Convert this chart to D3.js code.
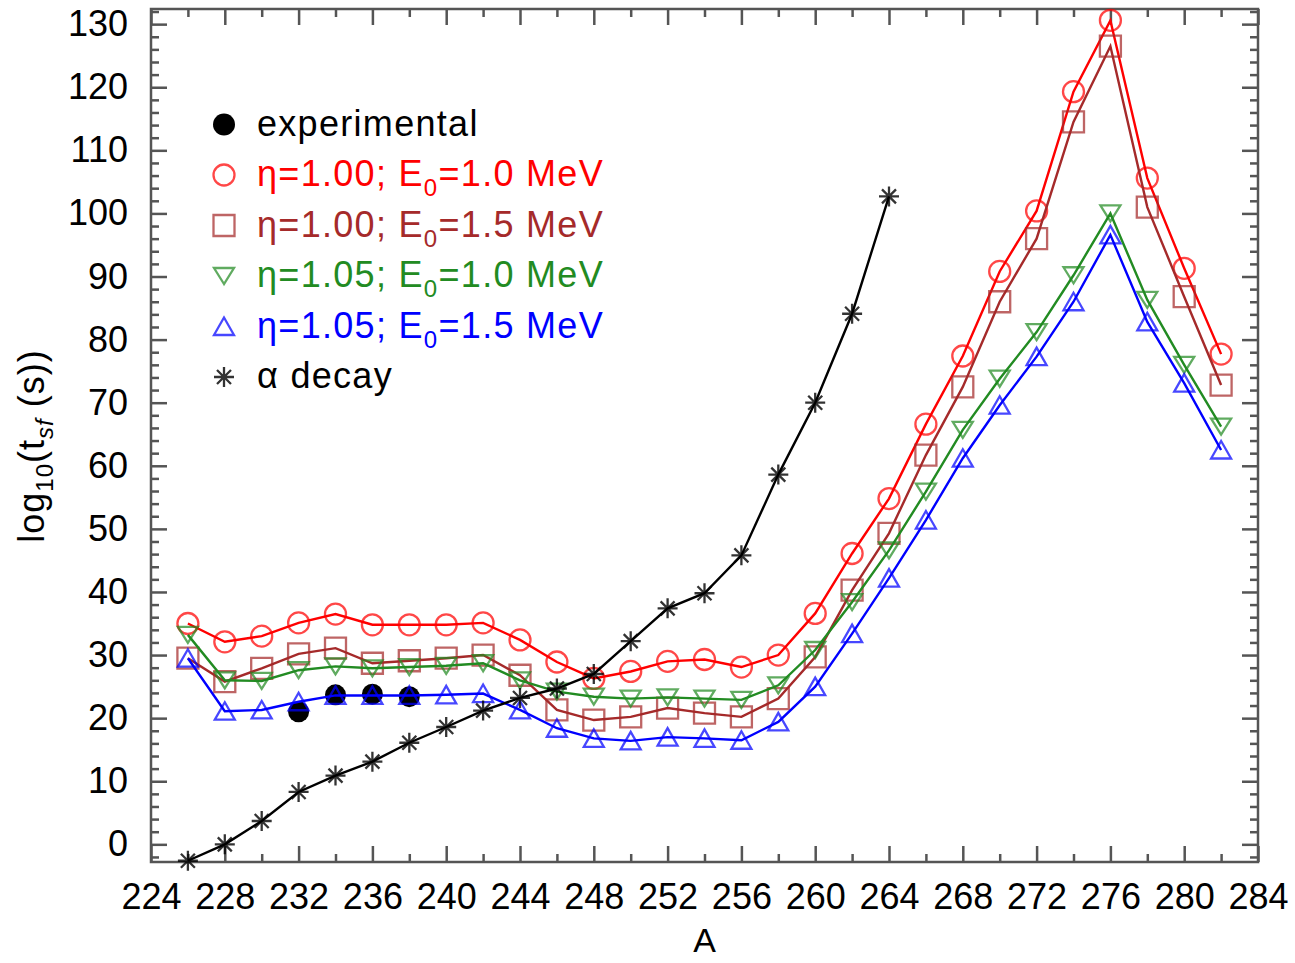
<!DOCTYPE html>
<html><head><meta charset="utf-8">
<script src="https://cdn.jsdelivr.net/npm/d3@7"></script>
<style>
body{margin:0;background:#fff}
svg{display:block}
text{font-family:"Liberation Sans",Arial,Helvetica,sans-serif}
</style>
</head><body>
<svg id="chart" width="1295" height="963"></svg>
<script>
// ---------------- data ----------------
const massNumbers = [226,228,230,232,234,236,238,240,242,244,246,248,250,252,254,256,258,260,262,264,266,268,270,272,274,276,278,280,282];
const eta100E10 = [35.0,32.1,33.0,35.1,36.5,34.8,34.8,34.8,35.1,32.4,28.9,26.3,27.4,29.0,29.3,28.1,30.0,36.6,46.1,54.8,66.6,77.4,90.8,100.4,119.3,130.6,105.6,91.3,77.7];
const eta100E15 = [29.5,25.8,27.9,30.2,31.1,28.7,29.1,29.5,30.0,26.8,21.3,19.7,20.2,21.6,20.8,20.2,23.1,29.7,40.3,49.3,61.7,72.5,86.0,96.0,114.5,126.5,101.0,86.8,72.8];
const eta105E10 = [33.2,26.0,25.9,27.6,28.2,27.9,28.1,28.3,28.7,26.0,24.2,23.4,23.1,23.3,23.1,22.9,25.2,30.8,38.4,46.6,55.9,65.7,73.8,81.2,90.2,100.0,86.3,76.0,66.2];
const eta105E15 = [29.5,21.1,21.3,22.6,23.6,23.6,23.6,23.7,23.9,21.3,18.4,16.8,16.4,17.0,16.8,16.5,19.4,25.0,33.4,42.2,51.4,61.2,69.6,77.3,86.0,96.6,82.8,73.1,62.5];
const expMass = [232,234,236,238];
const expValues = [21.0,23.7,23.8,23.4];
const alphaMass = [226,228,230,232,234,236,238,240,242,244,246,248,250,252,254,256,258,260,262,264];
const alphaValues = [-2.6,0.0,3.7,8.3,10.9,13.1,16.1,18.6,21.2,23.2,24.7,27.0,32.2,37.4,39.8,45.8,58.6,70.0,84.1,102.7];
const xTickLabels = [224,228,232,236,240,244,248,252,256,260,264,268,272,276,280,284];
const yTickLabels = [0,10,20,30,40,50,60,70,80,90,100,110,120,130];
const legendLabels = ["experimental","η=1.00; E|0|=1.0 MeV","η=1.00; E|0|=1.5 MeV","η=1.05; E|0|=1.0 MeV","η=1.05; E|0|=1.5 MeV","α decay"];

// ---------------- layout ----------------
const svg = d3.select("#chart");
const L = 151, R = 1258, T = 9, B = 862;
const x = d3.scaleLinear().domain([224, 284]).range([L, R]);
const y = d3.scaleLinear().domain([-2.8, 132.4]).range([B, T]);
const axisColor = "#555";

const series = [
  {name: legendLabels[1], vals: eta100E10, color: "#ff0000", shape: "circle"},
  {name: legendLabels[2], vals: eta100E15, color: "#a52a2a", shape: "square"},
  {name: legendLabels[3], vals: eta105E10, color: "#228b22", shape: "tridown"},
  {name: legendLabels[4], vals: eta105E15, color: "#0000ff", shape: "triup"}
];

function markerPath(shape){
  switch(shape){
    case "square": return "M-10.5,-10.5H10.5V10.5H-10.5Z";
    case "triup": return "M0,-9L-10,8.5H10Z";
    case "tridown": return "M0,8L-10,-8H10Z";
    case "star": return "M-10,0H10M0,-10V10M-7,-7L7,7M-7,7L7,-7";
    default: return d3.symbol(d3.symbolCircle, Math.PI*10.5*10.5)();
  }
}

// ---------------- axes ----------------
function styleAxis(g){
  g.select(".domain").remove();
  g.selectAll(".tick line").attr("stroke", axisColor).attr("stroke-width", 2.5);
  g.selectAll(".tick text").attr("fill", "#000").style("font-size", "36px");
}
const xMinor = d3.range(226, 284, 4);
const yMinor = d3.range(-2, 133, 2).filter(v => v % 10 !== 0);

svg.append("g").attr("transform", `translate(0,${B})`)
  .call(d3.axisBottom(x).tickValues(xTickLabels).tickSize(-16).tickPadding(21).tickFormat(d3.format("d"))).call(styleAxis);
svg.append("g").attr("transform", `translate(0,${B})`)
  .call(d3.axisBottom(x).tickValues(xMinor).tickSize(-8).tickFormat("")).call(styleAxis);
svg.append("g").attr("transform", `translate(0,${T})`)
  .call(d3.axisTop(x).tickValues(xTickLabels).tickSize(-16).tickFormat("")).call(styleAxis);
svg.append("g").attr("transform", `translate(0,${T})`)
  .call(d3.axisTop(x).tickValues(xMinor).tickSize(-8).tickFormat("")).call(styleAxis);
svg.append("g").attr("transform", `translate(${L},0)`)
  .call(d3.axisLeft(y).tickValues(yTickLabels).tickSize(-16).tickPadding(23).tickFormat(d3.format("d"))).call(styleAxis);
svg.append("g").attr("transform", `translate(${L},0)`)
  .call(d3.axisLeft(y).tickValues(yMinor).tickSize(-8).tickFormat("")).call(styleAxis);
svg.append("g").attr("transform", `translate(${R},0)`)
  .call(d3.axisRight(y).tickValues(yTickLabels).tickSize(-16).tickFormat("")).call(styleAxis);
svg.append("g").attr("transform", `translate(${R},0)`)
  .call(d3.axisRight(y).tickValues(yMinor).tickSize(-8).tickFormat("")).call(styleAxis);

svg.append("rect").attr("x", L).attr("y", T).attr("width", R - L).attr("height", B - T)
  .attr("fill", "none").attr("stroke", axisColor).attr("stroke-width", 2.5);

// axis titles
svg.append("text").attr("x", (L + R) / 2).attr("y", 952).attr("text-anchor", "middle")
  .style("font-size", "34px").text("A");
const yl = svg.append("text").attr("transform", "translate(44,446) rotate(-90)")
  .attr("text-anchor", "middle").style("font-size", "36px").style("letter-spacing", "1px");
yl.append("tspan").text("log");
yl.append("tspan").attr("dy", 9).style("font-size", "24px").text("10");
yl.append("tspan").attr("dy", -9).text("(t");
yl.append("tspan").attr("dy", 9).style("font-size", "24px").style("font-style", "italic").text("sf");
yl.append("tspan").attr("dy", -9).text(" (s))");

// ---------------- data marks ----------------
const plot = svg.append("g");
// experimental
plot.selectAll(".exp").data(expMass.map((m, i) => [m, expValues[i]])).join("circle")
  .attr("cx", d => x(d[0])).attr("cy", d => y(d[1])).attr("r", 10.5).attr("fill", "#000");

const line = d3.line().x(d => x(d[0])).y(d => y(d[1]));
series.forEach(s => {
  const pts = massNumbers.map((m, i) => [m, s.vals[i]]);
  plot.append("path").datum(pts).attr("d", line).attr("fill", "none")
    .attr("stroke", s.color).attr("stroke-width", 2.4);
  plot.append("g").selectAll("path").data(pts).join("path")
    .attr("transform", d => `translate(${x(d[0])},${y(d[1])})`)
    .attr("d", markerPath(s.shape)).attr("fill", "none")
    .attr("stroke", s.color).attr("stroke-width", 2.3).attr("stroke-opacity", 0.72);
});
// alpha decay
const alphaPts = alphaMass.map((m, i) => [m, alphaValues[i]]);
plot.append("path").datum(alphaPts).attr("d", line).attr("fill", "none")
  .attr("stroke", "#000").attr("stroke-width", 2.4);
plot.append("g").selectAll("path").data(alphaPts).join("path")
  .attr("transform", d => `translate(${x(d[0])},${y(d[1])})`)
  .attr("d", markerPath("star")).attr("fill", "none").attr("stroke", "#000")
  .attr("stroke-width", 2.3).attr("stroke-opacity", 0.8);

// ---------------- legend ----------------
const legendItems = [
  {label: legendLabels[0], color: "#000", shape: "dot"},
  ...series.map(s => ({label: s.name, color: s.color, shape: s.shape})),
  {label: legendLabels[5], color: "#000", shape: "star"}
];
const lg = svg.append("g");
legendItems.forEach((it, i) => {
  const cy = 124.5 + i * 50.5;
  if (it.shape === "dot") {
    lg.append("circle").attr("cx", 224).attr("cy", cy).attr("r", 11).attr("fill", "#000");
  } else {
    lg.append("path").attr("transform", `translate(224,${cy})`).attr("d", markerPath(it.shape))
      .attr("fill", "none").attr("stroke", it.color).attr("stroke-width", 2.3)
      .attr("stroke-opacity", it.shape === "star" ? 0.8 : 0.72);
  }
  const t = lg.append("text").attr("x", 257).attr("y", cy + 11).attr("fill", it.color)
    .style("font-size", "36px").style("letter-spacing", "1.3px");
  const parts = it.label.split("|");
  if (parts.length === 3) {
    t.append("tspan").text(parts[0]);
    t.append("tspan").attr("dy", 10).style("font-size", "24px").text(parts[1]);
    t.append("tspan").attr("dy", -10).text(parts[2]);
  } else {
    t.text(it.label);
  }
});
</script>
</body></html>
